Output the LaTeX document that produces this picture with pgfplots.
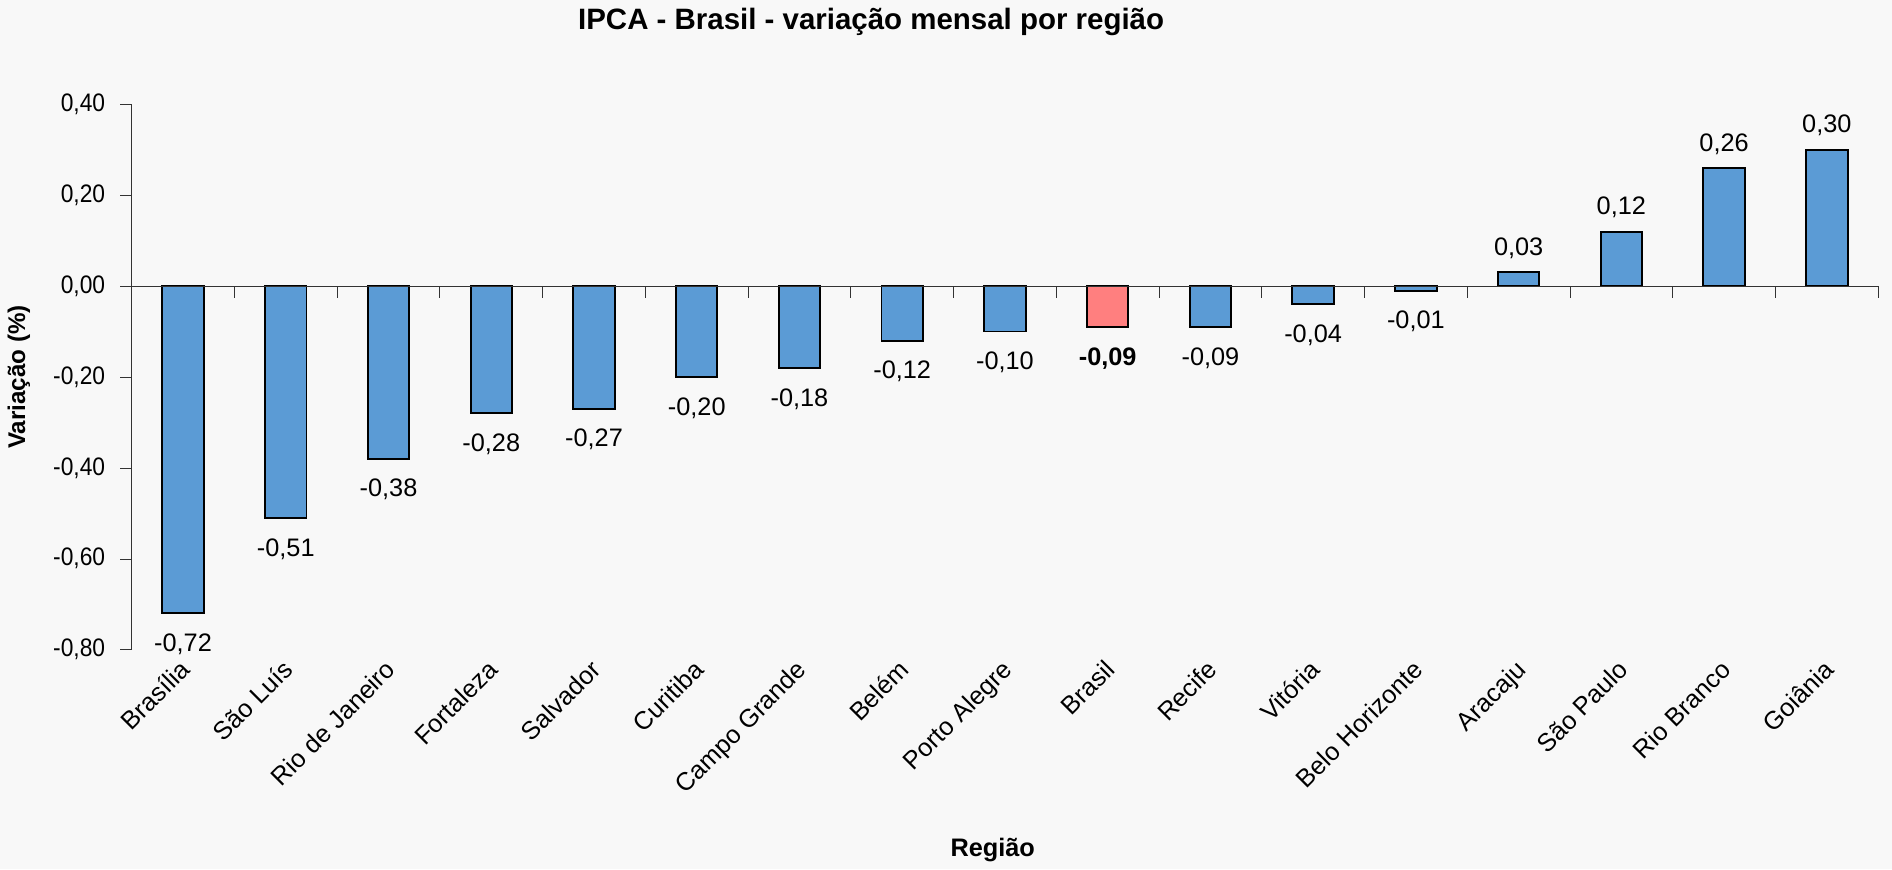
\documentclass[border=0pt]{standalone}
\usepackage{pgfplots}
\pgfplotsset{compat=1.18}
\usepackage{fontspec}
\setmainfont{Liberation Sans}
\newfontfamily\narrowfont[FakeStretch=0.9]{Liberation Sans}
\usetikzlibrary{backgrounds}
\definecolor{barblue}{HTML}{5B9BD5}
\definecolor{barred}{HTML}{FF7F7F}
\definecolor{bgcol}{HTML}{F8F8F8}

\newcommand{\fmt}[1]{\pgfmathprintnumber[use comma,fixed,fixed zerofill,precision=2,assume math mode=true]{#1}}

\begin{document}
\begin{tikzpicture}[show background rectangle, inner frame sep=0pt,
  background rectangle/.style={fill=bgcol, draw=none}]
\begin{axis}[
    scale only axis,
    width=759pt, height=237pt,
    ymin=-0.8, ymax=0.4,
    xmin=-0.5, xmax=16.5,
    axis lines*=left,
    x axis line style={draw=none},
    y axis line style={black!80},
    ytick={-0.8,-0.6,-0.4,-0.2,0,0.2,0.4},
    yticklabel={\fmt{\tick}},
    yticklabel style={font=\narrowfont\fontsize{11}{13}\selectfont, xshift=-3pt},
    ytick style={black!80},
    tick align=outside,
    major tick length=5pt,
    xtick={0,...,16},
    xticklabels={Brasília,São Luís,Rio de Janeiro,Fortaleza,Salvador,Curitiba,Campo Grande,Belém,Porto Alegre,Brasil,Recife,Vitória,Belo Horizonte,Aracaju,São Paulo,Rio Branco,Goiânia},
    xtick style={draw=none},
    xticklabel style={xshift=-2pt, yshift=6pt, rotate=45, anchor=north east, font=\fontsize{11}{13}\selectfont},
    ybar, bar width=18pt, bar shift=0pt,
    nodes near coords={\fmt{\pgfplotspointmeta}},
    every node near coord/.append style={font=\fontsize{11}{13}\selectfont, black},
    clip=false,
    title={\bfseries IPCA - Brasil - variação mensal por região},
    title style={at={(axis description cs:0.4234,1)}, anchor=center, yshift=30pt, font=\fontsize{12.8}{15}\selectfont},
    ylabel={\bfseries Variação (\%)},
    ylabel style={at={(axis description cs:0,0.5)}, anchor=center, yshift=49pt, font=\fontsize{10.5}{12}\selectfont},
    xlabel={\bfseries Região},
    xlabel style={at={(axis description cs:0.493,0)}, anchor=center, yshift=-87pt, font=\fontsize{11}{13}\selectfont},
]
% negative regions
\addplot[fill=barblue, draw=black, line width=0.85pt,
    every node near coord/.append style={inner ysep=8.5pt}] coordinates {
    (0,-0.72) (1,-0.51) (2,-0.38) (3,-0.28) (4,-0.27) (5,-0.20)
    (6,-0.18) (7,-0.12) (8,-0.10) (10,-0.09) (11,-0.04) (12,-0.01)
};
% positive regions
\addplot[fill=barblue, draw=black, line width=0.85pt,
    every node near coord/.append style={inner ysep=5.5pt}] coordinates {
    (13,0.03) (14,0.12) (15,0.26) (16,0.30)
};
% Brasil
\addplot[fill=barred, draw=black, line width=0.85pt,
    every node near coord/.append style={inner ysep=8.5pt},
    nodes near coords={\bfseries\fmt{\pgfplotspointmeta}}]
    coordinates {(9,-0.09)};
% zero line with category separators
\draw[black!80] (axis cs:-0.5,0) -- (axis cs:16.5,0);
\pgfplotsinvokeforeach{0.5,1.5,...,16.5}{
  \draw[black!80] (axis cs:#1,0) -- ++(0pt,-5pt);
}
% right margin
\path (axis description cs:1,0) ++(6pt,0pt);
\end{axis}
\end{tikzpicture}
\end{document}
